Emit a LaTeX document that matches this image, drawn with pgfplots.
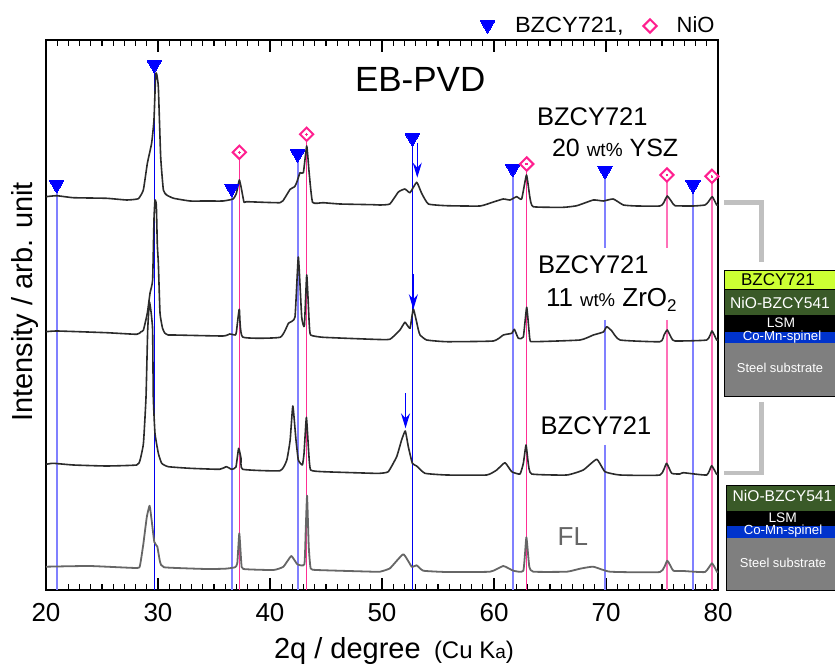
\documentclass[border=0pt]{standalone}
\usepackage{fontspec}
\usepackage{pgfplots}
\pgfplotsset{compat=1.18}
\usetikzlibrary{arrows.meta}
\setmainfont{Liberation Sans}
\definecolor{lb}{HTML}{8080FF}
\definecolor{db}{HTML}{0000F0}
\definecolor{dpk}{HTML}{FF2E93}
\definecolor{lp}{HTML}{FF70B8}
\definecolor{mk}{HTML}{FF1F8F}
\definecolor{brk}{HTML}{C0C0C0}
\definecolor{ygr}{HTML}{CCFF33}
\definecolor{dgr}{HTML}{3A5A28}
\definecolor{lbl}{HTML}{0033CC}
\definecolor{sgr}{HTML}{7F7F7F}
\definecolor{curve}{HTML}{2B2B2B}
\definecolor{flc}{HTML}{666666}
\newcommand\fs[1]{\fontsize{#1}{#1}\selectfont}
\newcommand\BZ[1]{{\fs{#1}BZCY721}}
\pgfplotsset{
  bzm/.style={only marks, mark=triangle*, mark size=8.3pt, forget plot,
     mark options={rotate=180, fill=blue, draw=blue, line width=0pt}},
  nim/.style={only marks, mark=square*, mark size=4.7pt,
     mark options={rotate=45, fill=white, draw=mk, line width=2pt}},
  nid/.style={only marks, mark=*, mark size=0.9pt, mark options={fill=mk, draw=mk, line width=0pt}},
  lbline/.style={lb, line width=2pt, no markers},
  dbline/.style={db, line width=1.3pt, no markers},
  dpline/.style={dpk, line width=1.5pt, no markers},
  lpline/.style={lp, line width=2pt, no markers},
  xrd/.style={curve, line width=1.6pt, no markers, line join=round, smooth, tension=0.25},
}
\begin{document}
\begin{tikzpicture}[x=1pt,y=1pt]
\useasboundingbox (0,0) rectangle (835,664);
\begin{axis}[
  at={(46pt,74pt)}, anchor=south west,
  scale only axis, width=672pt, height=550pt,
  xmin=20, xmax=80, ymin=0, ymax=550, clip=false,
  xtick={20,30,...,80}, minor x tick num=9,
  ytick=\empty,
  axis line style={black, line width=1.5pt},
  tick align=inside, xtick pos=both,
  major tick length=12pt, minor tick length=6pt,
  every tick/.style={black, line width=1.1pt},
  /pgf/number format/assume math mode=true,
  xticklabel style={font=\fs{26}, inner sep=0pt, yshift=-13pt},
]
% reference lines
\addplot[lbline] coordinates {(20.95,405) (20.95,0)};
\addplot[dbline] coordinates {(29.67,525) (29.67,0)};
\addplot[lbline] coordinates {(36.58,401) (36.58,0)};
\addplot[dpline] coordinates {(37.29,437) (37.29,0)};
\addplot[lbline] coordinates {(42.47,436) (42.47,0)};
\addplot[dpline] coordinates {(43.27,455) (43.27,0)};
\addplot[dbline] coordinates {(52.71,452) (52.71,0)};
\addplot[lbline] coordinates {(61.67,421) (61.67,0)};
\addplot[dpline] coordinates {(62.92,426) (62.92,0)};
\addplot[lbline] coordinates {(69.91,419) (69.91,341.7)};
\addplot[lbline] coordinates {(69.91,270) (69.91,180)};
\addplot[lbline] coordinates {(69.91,145) (69.91,0)};
\addplot[lpline] coordinates {(75.44,415) (75.44,341.7)};
\addplot[lpline] coordinates {(75.44,270) (75.44,0)};
\addplot[lbline] coordinates {(77.77,405) (77.77,0)};
\addplot[lpline] coordinates {(79.46,414) (79.46,0)};
% 20 wt% YSZ
\addplot[xrd] coordinates {
(20.0,393.3)(20.95,394.3)(22.44,392.3)(25.4,391.7)(27.2,390)(28.24,391.3)(28.69,400)(29.05,426.7)
(29.43,446.7)(29.64,470)(29.79,515)(29.88,516)(30.03,503)(30.24,433)(30.48,400)(30.77,395)
(31.4,391.7)(32.86,389)(34.3,389)(35.8,389)(36.7,391)(37.0,396.7)(37.26,410)(37.44,401.7)
(37.68,387.7)(37.9,388.3)(40.9,387.3)(41.3,391.7)(41.8,400.7)(42.2,403.3)(42.4,408)(42.68,417.3)
(42.98,417.3)(43.28,444)(43.5,416.7)(43.8,387.7)(44.76,387.3)(46.25,386)(49.2,385.3)(49.82,385)
(50.7,386)(51.46,398)(52.05,401)(52.5,397.3)(53.1,407.7)(53.54,396.7)(54.14,386)(55.77,384.3)
(58.75,384)(59.94,388)(60.83,391)(61.43,390)(62.02,393.3)(62.47,391)(62.9,415)(63.2,393)
(63.5,383.3)(66.2,382.7)(67.4,384.3)(68.87,390)(69.76,389)(70.65,391)(71.55,385)(72.74,384)
(74.82,384)(75.12,386.7)(75.47,394)(75.86,388.3)(76.16,384.3)(77.8,384)(78.84,385)(79.13,388)
(79.49,393.3)(79.88,385)(80,385)};
% 11 wt% ZrO2
\addplot[xrd] coordinates {
(20,258.3)(21,259)(25.4,257.3)(28.1,255.7)(28.45,258)(28.7,260)(29.05,277)(29.29,297)(29.52,310)
(29.64,370)(29.73,390)(29.85,385)(29.94,345)(30.03,327)(30.18,277)(30.4,262)(30.6,257)
(30.9,255)(31.4,255)(35.8,254)(36.4,256)(36.9,255)
(37.0,258)(37.26,280.7)(37.55,253)(40.9,252.7)(41.65,266.7)(42.23,273)(42.53,333)(42.83,273)
(43.07,264)(43.28,315)(43.5,267)(43.63,255)(44.76,252.7)(49.2,250.7)(50.7,250.7)(51.6,260)
(52.05,267.7)(52.5,261.7)(52.8,281)(53.25,260)(53.4,255)(53.99,250)(55.77,248.3)(59.94,249)
(60.83,255)(61.58,256.7)(61.82,260.7)(62.17,251.7)(62.62,253)(62.92,282.7)(63.2,250.7)(63.5,248.3)
(67.68,250)(68.87,255)(69.76,258)(70.06,263.3)(70.5,259.3)(71.25,250)(74.82,248.3)(75.18,255)
(75.47,260)(75.86,251.7)(76.16,249)(79.0,250)(79.46,259)(79.88,250)(80,250)};
% BZCY721
\addplot[xrd] coordinates {
(20,125.7)(20.65,126.7)(22.44,125)(25.4,124)(28.1,125)(28.4,130)(28.7,146.7)(28.93,193)(29.08,260)(29.23,288)
(29.38,278)(29.52,260)(29.58,193)(29.73,156.7)(30.03,136.7)(30.33,126.7)(30.92,123.3)(32.86,121.7)(35.5,120.7)(36.1,123.3)
(36.58,120.7)(36.96,123)(37.2,141.7)(37.41,131.7)(37.56,120.7)(40.9,119.3)(41.5,130)(41.8,150)
(42.04,184)(42.32,150)(42.53,130)(42.89,125)(43.04,136.7)(43.25,172.7)(43.46,136.7)(43.63,120)
(44.76,118.3)(49.2,116.7)(49.82,116.7)(50.56,118.3)(51.31,133.3)(51.75,150)(52.08,159)(52.35,143.3)
(52.71,126.7)(53.09,124)(53.84,116.7)(55.77,115)(59.34,115)(60.24,120)(60.98,127.3)(61.58,118.3)
(62.32,116)(62.62,126.7)(62.86,145)(63.06,126.7)(63.36,116)(66.5,115)(67.97,120)(69.17,130.7)
(69.91,118.3)(71.25,115)(74.82,115)(75.4,126.7)(75.86,116.7)(76.6,116)(76.9,117.3)(78.99,115)
(79.43,124.3)(79.88,115.7)(80,115.7)};
% FL
\addplot[flc, line width=1.8pt, no markers, line join=round, smooth, tension=0.25] coordinates {
(20,23.3)(23.9,24)(28.1,22)(28.4,25)(28.7,46.7)(29.0,73)(29.25,84.3)(29.43,70)(29.67,48)
(29.94,43.3)(30.18,28.3)(30.54,22.7)(34.3,21)(36.0,21.3)(36.87,22.7)(37.08,26.7)(37.26,56.7)
(37.44,26.7)(37.62,21)(40.3,20)(41.2,23.3)(41.9,34)(42.44,25.7)(43.07,25.7)(43.19,60)(43.31,94.3)
(43.46,43.3)(43.63,21.7)(44.17,20)(49.2,18.3)(49.82,18.3)(50.71,21.7)(51.9,35.7)(52.65,23.3)
(53.09,24.7)(53.69,19.3)(55.77,18)(59.64,18.3)(60.83,24)(61.72,19.3)(62.62,19.3)(62.89,52.7)
(63.15,23.3)(63.51,18.3)(66.5,18.3)(67.68,21.3)(68.87,23.3)(70.36,18.3)(74.82,18)(75.47,29.3)
(76.01,19.3)(76.9,19)(78.84,18)(79.46,26.7)(79.94,17.7)(80,17.7)};
% BZCY721 markers (last point is the key above the frame)
\addplot[bzm] coordinates {(20.95,405.3)(29.67,525.3)(36.58,401.7)(42.47,436)(52.71,452)(61.67,421.3)(69.91,419.3)(77.77,405)(59.43,565)};
% NiO markers
\addplot[nim] coordinates {(37.26,437.7)(43.27,455.7)(62.92,426)(75.44,415)(79.46,413.7)(73.93,564)};
\addplot[nid] coordinates {(37.26,437.7)(43.27,455.7)(62.92,426)(75.44,415)(79.46,413.7)};
% arrows
\draw[blue, line width=1.1pt, -{Stealth[length=15pt,width=9pt,inset=5pt]}] (axis cs:53.15,446.7) -- (axis cs:53.15,412.3);
\draw[blue, line width=1.1pt, -{Stealth[length=15pt,width=9pt,inset=5pt]}] (axis cs:52.8,316) -- (axis cs:52.8,280.7);
\draw[blue, line width=1.1pt, -{Stealth[length=15pt,width=9pt,inset=5pt]}] (axis cs:52.1,196.7) -- (axis cs:52.1,161.7);
\end{axis}
\tikzset{t/.style={anchor=base west, inner sep=0pt, outer sep=0pt}, c/.style={anchor=base, inner sep=0pt, outer sep=0pt}}
% labels
\node[t, font=\fs{35}] at (355,572) {EB-PVD};
\node[t] at (537,538) {\BZ{25.5}};
\node[t, font=\fs{25}] at (552,507) {20 {\fs{19}wt\%} YSZ};
\node[t] at (538,390) {\BZ{25.5}};
\node[t, font=\fs{26}] at (546,357) {11 {\fs{18.5}wt\%} ZrO\raisebox{-5pt}{\fs{17}2}};
\node[t] at (540.7,229) {\BZ{25.5}};
\node[t, font=\fs{26}, text=flc] at (557.7,118) {FL};
\node[t, font=\fs{22}] at (515,631) {\scalebox{1.07}[1]{BZCY721,}};
\node[t, font=\fs{22}] at (676.7,631) {NiO};
\node[t, font=\fs{29}] at (274,6) {2q / degree};
\node[t, font=\fs{24}] at (434,6) {(Cu K{\fs{19}a})};
\node[c, rotate=90, font=\fs{29}] at (32,362) {Intensity / arb. unit};
% layer brackets
\draw[brk, line width=4.5pt] (724,461.3) -| (761.7,402.3);
\draw[brk, line width=4.5pt] (761.7,262) |- (724,191);
% layer stack with BZCY721
\fill[ygr] (724.3,375) rectangle (835,393.3);
\fill[dgr] (724.3,349) rectangle (835,375);
\fill[black] (724.3,332.3) rectangle (835,349);
\fill[lbl] (724.3,321.3) rectangle (835,332.3);
\fill[sgr] (724.3,268) rectangle (835,321.3);
\draw[black, line width=0.8pt] (835,393.3) -- (724.3,393.3) -- (724.3,268) -- (835,268);
\draw[black, line width=0.6pt] (724.3,375) -- (835,375);
\node[c, font=\fs{17}] at (778,378.3) {BZCY721};
\node[c, font=\fs{15.6}, text=white] at (780,355) {NiO-BZCY541};
\node[c, font=\fs{13.8}, text=white] at (781,336.3) {LSM};
\node[c, font=\fs{13.2}, text=white] at (782,323.3) {Co-Mn-spinel};
\node[c, font=\fs{12.9}, text=white] at (780,291.3) {Steel substrate};
% layer stack without BZCY721
\fill[dgr] (726,153.3) rectangle (835,179);
\fill[black] (726,138) rectangle (835,153.3);
\fill[lbl] (726,125.7) rectangle (835,138);
\fill[sgr] (726,74) rectangle (835,125.7);
\draw[black, line width=0.8pt] (835,179) -- (726,179) -- (726,74) -- (835,74);
\node[c, font=\fs{15.6}, text=white] at (782.5,162.3) {NiO-BZCY541};
\node[c, font=\fs{13.8}, text=white] at (782.7,141.3) {LSM};
\node[c, font=\fs{13.2}, text=white] at (783,129) {Co-Mn-spinel};
\node[c, font=\fs{12.9}, text=white] at (783,96) {Steel substrate};
\end{tikzpicture}
\end{document}
